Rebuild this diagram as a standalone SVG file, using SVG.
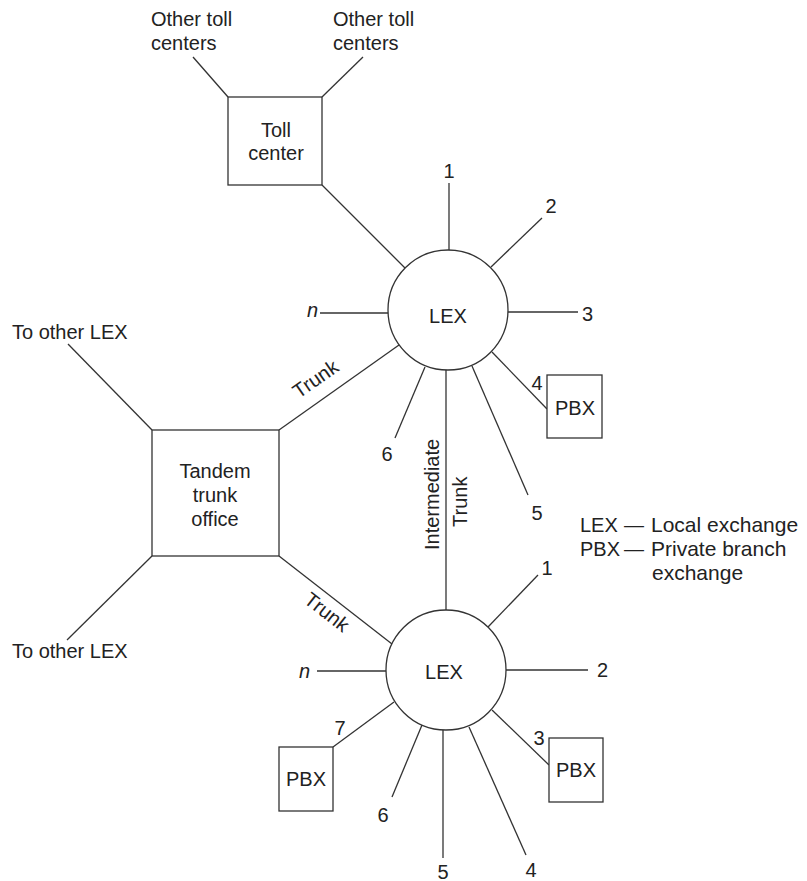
<svg xmlns="http://www.w3.org/2000/svg" width="807" height="881" viewBox="0 0 807 881">
<style>
  .ln { stroke:#333; stroke-width:1.3; fill:none; }
  .bx { stroke:#333; stroke-width:1.3; fill:#fff; }
  text { font-family:"Liberation Sans", Arial, sans-serif; font-size:20px; fill:#222; }
  .m { text-anchor:middle; }
  .e { text-anchor:end; }
  .i { font-style:italic; }
  .lg { font-size:21px; }
</style>
<rect width="807" height="881" fill="#fff"/>
<g id="connectors">
  <line class="ln" x1="193" y1="57" x2="228" y2="97"/>
  <line class="ln" x1="363" y1="57" x2="322" y2="97"/>
  <line class="ln" x1="322" y1="185" x2="405" y2="268"/>
  <line class="ln" x1="449" y1="183" x2="449" y2="250"/>
  <line class="ln" x1="491" y1="267" x2="542" y2="218"/>
  <line class="ln" x1="508" y1="312" x2="578" y2="312"/>
  <line class="ln" x1="320" y1="313" x2="388" y2="313"/>
  <line class="ln" x1="279" y1="430" x2="399" y2="345"/>
  <line class="ln" x1="425" y1="367" x2="395" y2="438"/>
  <line class="ln" x1="446" y1="370" x2="446" y2="610"/>
  <line class="ln" x1="472" y1="366" x2="528" y2="495"/>
  <line class="ln" x1="492" y1="352" x2="547" y2="409"/>
  <line class="ln" x1="68" y1="344" x2="152" y2="430"/>
  <line class="ln" x1="67" y1="640" x2="152" y2="556"/>
  <line class="ln" x1="279" y1="556" x2="392" y2="644"/>
  <line class="ln" x1="488" y1="627" x2="538" y2="575"/>
  <line class="ln" x1="506" y1="670" x2="588" y2="670"/>
  <line class="ln" x1="492" y1="710" x2="549" y2="765"/>
  <line class="ln" x1="469" y1="727" x2="526" y2="855"/>
  <line class="ln" x1="443" y1="730" x2="443" y2="858"/>
  <line class="ln" x1="422" y1="725" x2="392" y2="797"/>
  <line class="ln" x1="394" y1="702" x2="333" y2="747"/>
  <line class="ln" x1="317" y1="671" x2="386" y2="671"/>
</g>
<g id="toll-center">
  <rect class="bx" x="228" y="97" width="94" height="88"/>
  <text class="m" x="276" y="137">Toll</text>
  <text class="m" x="276" y="160">center</text>
</g>
<g id="other-toll-left">
  <text x="151" y="26">Other toll</text>
  <text x="151" y="50">centers</text>
</g>
<g id="other-toll-right">
  <text x="333" y="26">Other toll</text>
  <text x="333" y="50">centers</text>
</g>
<g id="lex-upper">
  <circle class="bx" cx="448" cy="310" r="60"/>
  <text class="m" x="448" y="323">LEX</text>
</g>
<g id="lex-upper-labels">
  <text class="m" x="449" y="178">1</text>
  <text class="m" x="551" y="213">2</text>
  <text x="582" y="321">3</text>
  <text class="e i" x="318" y="317">n</text>
  <text class="m" x="537" y="390">4</text>
  <text class="m" x="387" y="461">6</text>
  <text class="m" x="537" y="520">5</text>
</g>
<g id="pbx-upper">
  <rect class="bx" x="547" y="375" width="55" height="63"/>
  <text class="m" x="575" y="415">PBX</text>
</g>
<g id="intermediate-trunk-label">
  <text transform="translate(439,550) rotate(-90)">Intermediate</text>
  <text transform="translate(467,527) rotate(-90)">Trunk</text>
</g>
<g id="trunk-labels">
  <text class="m" transform="translate(319.5,384.5) rotate(-35)">Trunk</text>
  <text class="m" transform="translate(322.7,617.5) rotate(38)">Trunk</text>
</g>
<g id="tandem">
  <rect class="bx" x="152" y="430" width="127" height="126"/>
  <text class="m" x="215" y="478">Tandem</text>
  <text class="m" x="215" y="502">trunk</text>
  <text class="m" x="215" y="526">office</text>
</g>
<g id="other-lex-top">
  <text x="12" y="339">To other LEX</text>
</g>
<g id="other-lex-bottom">
  <text x="12" y="658">To other LEX</text>
</g>
<g id="lex-lower">
  <circle class="bx" cx="446" cy="670" r="60"/>
  <text class="m" x="444" y="679">LEX</text>
</g>
<g id="lex-lower-labels">
  <text class="m" x="547" y="575">1</text>
  <text x="597" y="677">2</text>
  <text class="m" x="539" y="745">3</text>
  <text class="m" x="531" y="877">4</text>
  <text class="m" x="443" y="879">5</text>
  <text class="m" x="383" y="822">6</text>
  <text class="m" x="340" y="735">7</text>
  <text class="e i" x="310" y="678">n</text>
</g>
<g id="pbx-lower-right">
  <rect class="bx" x="549" y="738" width="54" height="64"/>
  <text class="m" x="576" y="777">PBX</text>
</g>
<g id="pbx-lower-left">
  <rect class="bx" x="279" y="747" width="54" height="64"/>
  <text class="m" x="306" y="786">PBX</text>
</g>
<g id="legend">
  <text x="580" y="532">LEX</text>
  <text x="624" y="532">—</text>
  <text class="lg" x="651" y="532">Local exchange</text>
  <text x="580" y="556">PBX</text>
  <text x="624" y="556">—</text>
  <text class="lg" x="651" y="556">Private branch</text>
  <text class="lg" x="652" y="580">exchange</text>
</g>
</svg>
